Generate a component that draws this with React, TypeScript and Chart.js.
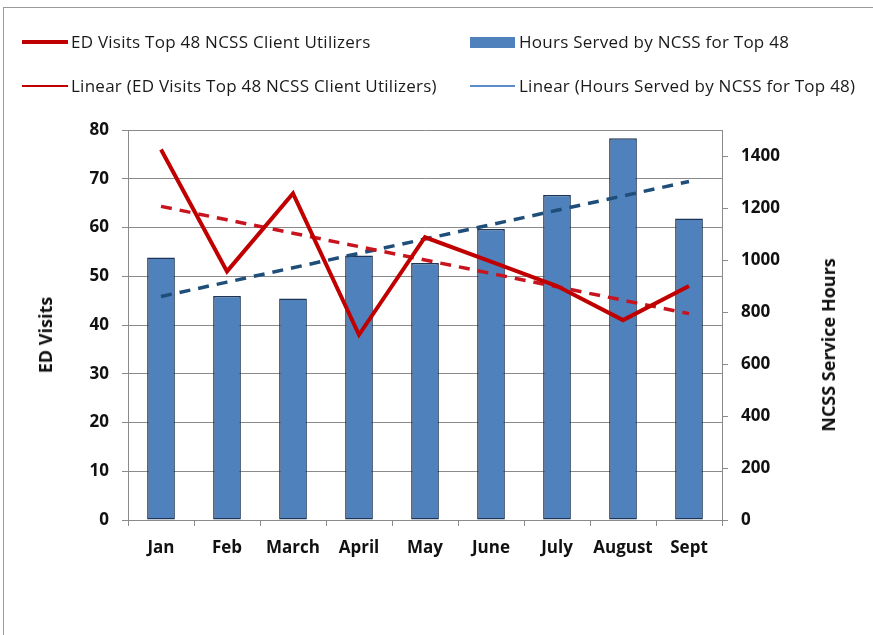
import React, { useEffect, useRef } from "react";
import { Chart, registerables } from "chart.js";

Chart.register(...registerables);

const months = ["Jan", "Feb", "March", "April", "May", "June", "July", "August", "Sept"];
const edVisits = [76, 51, 67, 38, 58, 53, 48, 41, 48];
const hoursServed = [1010, 862, 852, 1017, 988, 1119, 1250, 1468, 1160];
const leftTicks = { min: 0, max: 80, step: 10 };
const rightTicks = { min: 0, max: 1500, step: 200 };

const edLabel = "ED Visits Top 48 NCSS Client Utilizers";
const hoursLabel = "Hours Served by NCSS for Top 48";

// Excel-style "Linear" trendline: least-squares fit of the series
function linearTrend(values: number[]): number[] {
  const n = values.length;
  const xs = values.map((_, i) => i + 1);
  const mx = xs.reduce((a, b) => a + b, 0) / n;
  const my = values.reduce((a, b) => a + b, 0) / n;
  let sxy = 0;
  let sxx = 0;
  for (let i = 0; i < n; i++) {
    sxy += (xs[i] - mx) * (values[i] - my);
    sxx += (xs[i] - mx) * (xs[i] - mx);
  }
  const slope = sxy / sxx;
  return xs.map((x) => my + slope * (x - mx));
}

const RED = "#C00000";
const BAR = "#4F81BD";
const BLUE_DASH = "#1F4E79";
const GRID = "#8a8a8a";
const FONT = "'Open Sans', 'Noto Sans', sans-serif";

export default function App() {
  const ref = useRef<HTMLCanvasElement | null>(null);

  useEffect(() => {
    if (!ref.current) return;
    const tickFont = { family: FONT, size: 17, weight: "bold" as const };
    const chart = new Chart(ref.current, {
      type: "bar",
      data: {
        labels: months,
        datasets: [
          {
            type: "line",
            label: edLabel,
            data: edVisits,
            yAxisID: "y",
            borderColor: RED,
            borderWidth: 4,
            pointRadius: 0,
            tension: 0,
            order: 0,
          },
          {
            type: "line",
            label: "Linear (" + edLabel + ")",
            data: linearTrend(edVisits),
            yAxisID: "y",
            borderColor: "#C8141E",
            borderWidth: 3.5,
            borderDash: [11, 8],
            pointRadius: 0,
            tension: 0,
            order: 1,
          },
          {
            type: "line",
            label: "Linear (" + hoursLabel + ")",
            data: linearTrend(hoursServed),
            yAxisID: "y1",
            borderColor: BLUE_DASH,
            borderWidth: 3.5,
            borderDash: [11, 8],
            pointRadius: 0,
            tension: 0,
            order: 2,
          },
          {
            type: "bar",
            label: hoursLabel,
            data: hoursServed,
            yAxisID: "y1",
            backgroundColor: BAR,
            borderColor: "#1C3455",
            borderWidth: 1.5,
            borderSkipped: false,
            barPercentage: 0.42,
            categoryPercentage: 1,
            order: 3,
          },
        ],
      },
      options: {
        animation: false,
        responsive: false,
        maintainAspectRatio: false,
        layout: { padding: { top: 130, left: 0, right: 0, bottom: 0 } },
        plugins: {
          legend: { display: false },
          tooltip: { enabled: false },
        },
        scales: {
          x: {
            offset: true,
            grid: {
              display: true,
              drawOnChartArea: false,
              drawTicks: true,
              tickLength: 6,
              color: GRID,
              offset: true,
            },
            border: { display: true, color: GRID },
            ticks: { color: "#111", font: tickFont, padding: 12, maxRotation: 0, autoSkip: false },
            afterFit: (s: any) => {
              s.height = 115;
            },
          },
          y: {
            position: "left",
            min: leftTicks.min,
            max: leftTicks.max,
            ticks: { stepSize: leftTicks.step, color: "#111", font: tickFont, padding: 13 },
            grid: { color: GRID, tickLength: 6, drawTicks: true },
            border: { display: true, color: GRID },
            afterFit: (s: any) => {
              s.width = 128;
            },
          },
          y1: {
            position: "right",
            min: rightTicks.min,
            max: rightTicks.max,
            ticks: {
              stepSize: rightTicks.step,
              includeBounds: false,
              color: "#111",
              font: tickFont,
              padding: 13,
              callback: (v: any) => String(v),
            },
            grid: { drawOnChartArea: false, color: GRID, tickLength: 6, drawTicks: true },
            border: { display: true, color: GRID },
            afterFit: (s: any) => {
              s.width = 151;
            },
          },
        },
      },
    });
    return () => chart.destroy();
  }, []);

  const legendText: React.CSSProperties = {
    position: "absolute",
    fontFamily: FONT,
    fontSize: 17,
    letterSpacing: "0.25px",
    lineHeight: "20px",
    color: "#1a1a1a",
    whiteSpace: "nowrap",
  };

  return (
    <div
      style={{
        position: "absolute",
        left: 0,
        top: 0,
        width: 873,
        height: 635,
        overflow: "hidden",
        background: "#fff",
      }}
    >
      <div
        style={{
          position: "absolute",
          left: 3,
          top: 7,
          width: 900,
          height: 700,
          border: "1px solid #9a9a9a",
        }}
      />
      <canvas ref={ref} width={873} height={635} style={{ position: "absolute", left: 0, top: 0 }} />
      {/* legend */}
      <div style={{ position: "absolute", left: 22, top: 40, width: 46, height: 4, background: RED }} />
      <div style={{ ...legendText, left: 71, top: 32 }}>{edLabel}</div>
      <div style={{ position: "absolute", left: 470, top: 37, width: 45, height: 11, background: BAR }} />
      <div style={{ ...legendText, left: 519, top: 32 }}>{hoursLabel}</div>
      <div style={{ position: "absolute", left: 22, top: 85, width: 46, height: 2, background: RED }} />
      <div style={{ ...legendText, left: 71, top: 76 }}>{"Linear (" + edLabel + ")"}</div>
      <div style={{ position: "absolute", left: 470, top: 85, width: 45, height: 1.5, background: "#5B8BC8" }} />
      <div style={{ ...legendText, left: 519, top: 76 }}>{"Linear (" + hoursLabel + ")"}</div>
      {/* axis titles */}
      <div
        style={{
          position: "absolute",
          left: 45,
          top: 335,
          transform: "translate(-50%, -50%) rotate(-90deg)",
          fontFamily: FONT,
          fontWeight: "bold",
          fontSize: 18,
          color: "#111",
          whiteSpace: "nowrap",
        }}
      >
        ED Visits
      </div>
      <div
        style={{
          position: "absolute",
          left: 828,
          top: 345,
          transform: "translate(-50%, -50%) rotate(-90deg)",
          fontFamily: FONT,
          fontWeight: "bold",
          fontSize: 18,
          color: "#111",
          whiteSpace: "nowrap",
        }}
      >
        NCSS Service Hours
      </div>
    </div>
  );
}
